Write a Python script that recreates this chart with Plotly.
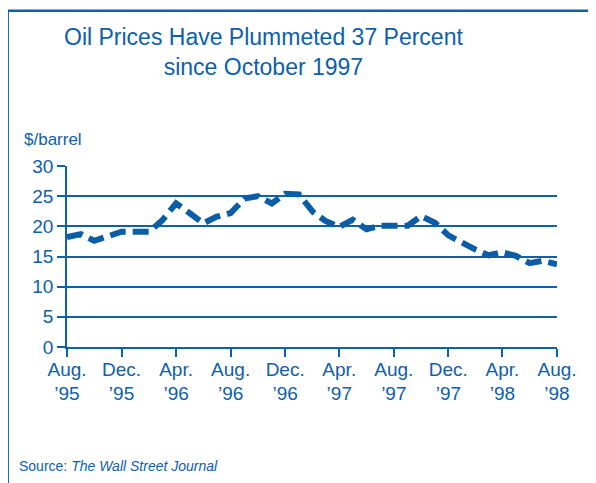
import plotly.graph_objects as go
import pandas as pd

months = pd.date_range("1995-08-01", "1998-08-01", freq="MS")
prices = [18.2, 18.7, 17.6, 18.3, 19.1, 19.1, 19.1, 21.0, 23.8, 22.2,
          20.5, 21.6, 22.2, 24.6, 25.0, 23.8, 25.4, 25.3, 22.4, 20.9,
          19.9, 21.1, 19.5, 20.1, 20.1, 20.1, 21.7, 20.6, 18.5, 17.2,
          16.1, 15.2, 15.7, 15.1, 13.9, 14.3, 13.7]
tick_dates = ["1995-08-01", "1995-12-01", "1996-04-01", "1996-08-01", "1996-12-01",
              "1997-04-01", "1997-08-01", "1997-12-01", "1998-04-01", "1998-08-01"]
tick_labels = ["Aug.<br>\u201995", "Dec.<br>\u201995", "Apr.<br>\u201996", "Aug.<br>\u201996",
               "Dec.<br>\u201996", "Apr.<br>\u201997", "Aug.<br>\u201997", "Dec.<br>\u201997",
               "Apr.<br>\u201998", "Aug.<br>\u201998"]
y_ticks = [0, 5, 10, 15, 20, 25, 30]

BLUE = "#0d60aa"
LINE = "#0a5ea8"
FONT = "Liberation Sans, Arial, sans-serif"

W, H = 596, 483
OFF = 8  # page body margin
# target plot area in window pixels
PX0, PX1, PY0, PY1 = 67.3, 557.0, 165.7, 347.3
L = PX0 - OFF
T = PY0 - OFF
R = W - L - (PX1 - PX0)
B = H - T - (PY1 - PY0)


def px(x):
    return (x - PX0) / (PX1 - PX0)


def py(y):
    return (PY1 - y) / (PY1 - PY0)


fig = go.Figure()
fig.add_trace(go.Scatter(
    x=months, y=prices, mode="lines",
    line=dict(color=LINE, width=6, dash="16px,7px"),
    hoverinfo="x+y", showlegend=False,
))

fx, fy = px(8), py(10)
fig.add_shape(type="path", xref="paper", yref="paper",
              path=f"M {fx},{py(520)} L {fx},{fy} L {px(640)},{fy}",
              line=dict(color=BLUE, width=2.5))

fig.add_annotation(xref="paper", yref="paper", x=px(264), y=py(21),
                   xanchor="center", yanchor="top", showarrow=False, align="center",
                   text="Oil Prices Have Plummeted 37 Percent<br>since October 1997",
                   font=dict(family=FONT, size=23, color=BLUE))
fig.add_annotation(xref="paper", yref="paper", x=px(22), y=py(151),
                   xanchor="left", yanchor="bottom", showarrow=False,
                   text="$/barrel", font=dict(family=FONT, size=17, color=BLUE))
fig.add_annotation(xref="paper", yref="paper", x=px(17), y=py(477),
                   xanchor="left", yanchor="bottom", showarrow=False,
                   text="Source: <i>The Wall Street Journal</i>",
                   font=dict(family=FONT, size=14, color=BLUE))

fig.update_layout(
    width=W, height=H,
    margin=dict(l=L, r=R, t=T, b=B, autoexpand=False),
    paper_bgcolor="white", plot_bgcolor="white",
    xaxis=dict(range=["1995-08-01", "1998-08-01"], tickvals=tick_dates, ticktext=tick_labels,
               showgrid=False, showline=True, linecolor=BLUE, linewidth=1.5,
               ticks="outside", ticklen=8, tickwidth=1.5, tickcolor=BLUE,
               ticklabelstandoff=-4,
               tickfont=dict(family=FONT, size=19, color=BLUE), zeroline=False),
    yaxis=dict(range=[0, 30], tickvals=y_ticks, showgrid=True, gridcolor=BLUE, gridwidth=1.5,
               showline=True, linecolor=BLUE, linewidth=1.5,
               ticks="outside", ticklen=8, tickwidth=1.5, tickcolor=BLUE,
               tickfont=dict(family=FONT, size=19, color=BLUE), zeroline=False),
)

fig.write_html("out.html")
